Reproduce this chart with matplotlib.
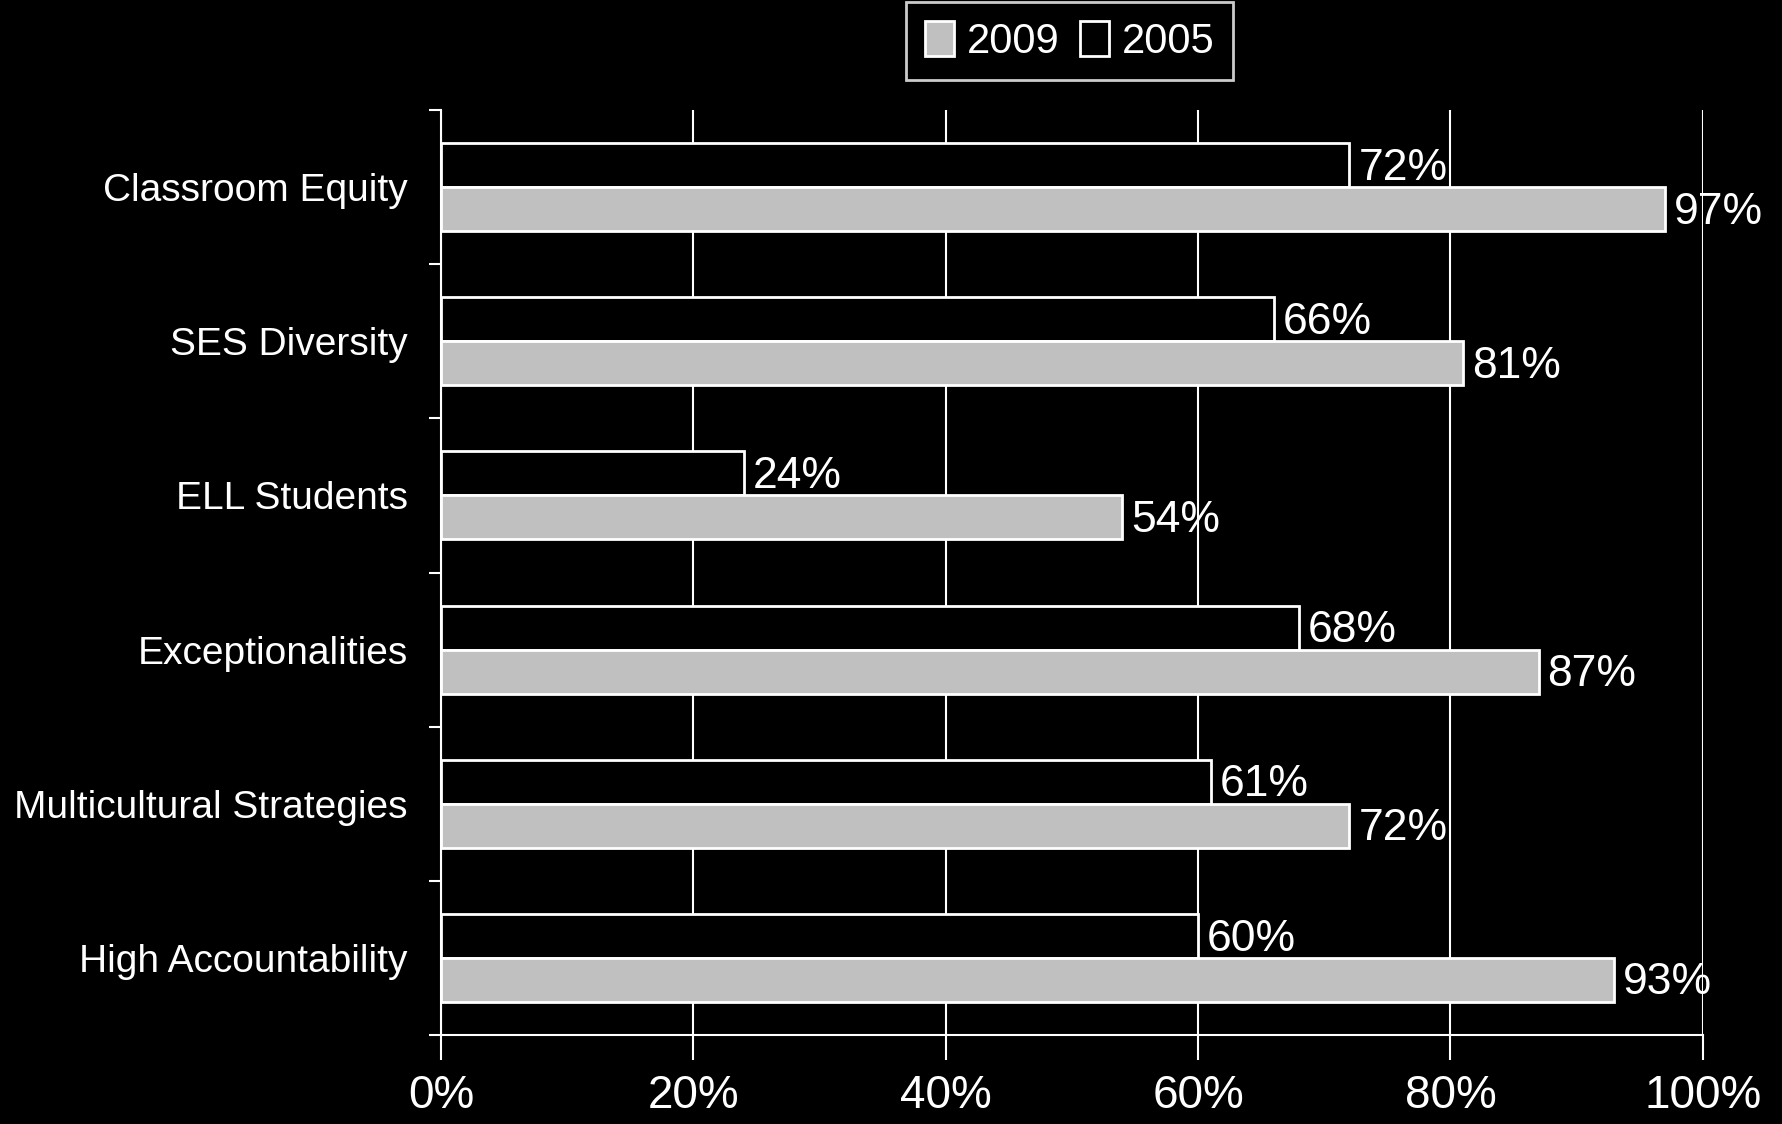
import numpy as np
import matplotlib
matplotlib.use('Agg')
from matplotlib import pyplot as plt

plt.rcParams['font.family'] = ['Liberation Sans', 'DejaVu Sans']

categories = ['Classroom Equity', 'SES Diversity', 'ELL Students',
              'Exceptionalities', 'Multicultural Strategies', 'High Accountability']
vals_2009 = [97, 81, 54, 87, 72, 93]
vals_2005 = [72, 66, 24, 68, 61, 60]
xticks = [0, 20, 40, 60, 80, 100]

fig = plt.figure(figsize=(17.83, 11.24), dpi=100, facecolor='black')
ax = fig.add_axes([0.2473, 0.0792, 0.7077, 0.8229], facecolor='black')

y = np.arange(len(categories))
h = 0.285
ax.barh(y - h / 2, vals_2005, height=h, color='black', edgecolor='white', linewidth=2, label='2005', zorder=3)
ax.barh(y + h / 2, vals_2009, height=h, color='#c0c0c0', edgecolor='white', linewidth=2, label='2009', zorder=3)

# value labels just past the end of each bar
for i in range(len(categories)):
    ax.text(vals_2005[i] + 0.7, y[i] - h / 2 + 0.02, f'{vals_2005[i]}%', color='white',
            fontsize=32, va='center', ha='left', zorder=4)
    ax.text(vals_2009[i] + 0.7, y[i] + h / 2 + 0.02, f'{vals_2009[i]}%', color='white',
            fontsize=32, va='center', ha='left', zorder=4)

ax.set_xlim(0, 100)
ax.set_ylim(len(categories) - 0.5, -0.5)
ax.set_xticks(xticks)
ax.set_xticklabels([f'{t}%' for t in xticks], fontsize=33, color='white')
ax.set_yticks(y)
ax.set_yticklabels(categories, fontsize=28, color='white')
ax.set_yticks(np.arange(len(categories) + 1) - 0.5, minor=True)
ax.tick_params(axis='y', which='major', length=0, pad=24)
ax.tick_params(axis='y', which='minor', length=9, width=1.5, color='white', direction='out')
ax.tick_params(axis='x', length=18, width=1.5, color='white', direction='out', pad=10)

ax.grid(axis='x', color='white', linewidth=1.5, zorder=1)
for s in ['top', 'right']:
    ax.spines[s].set_visible(False)
for s in ['left', 'bottom']:
    ax.spines[s].set_color('white')
    ax.spines[s].set_linewidth(1.5)

handles, labels = ax.get_legend_handles_labels()
leg = fig.legend(handles[::-1], labels[::-1], loc='upper center', bbox_to_anchor=(0.6, 0.998),
                 ncol=2, fontsize=30, frameon=True, fancybox=False, handlelength=0.7,
                 handleheight=0.9, handletextpad=0.3, columnspacing=0.5, borderpad=0.45,
                 borderaxespad=0.0)
leg.get_frame().set_facecolor('black')
leg.get_frame().set_edgecolor('white')
leg.get_frame().set_linewidth(2)
for t in leg.get_texts():
    t.set_color('white')

fig.savefig('out.png', dpi=100, facecolor='black')
